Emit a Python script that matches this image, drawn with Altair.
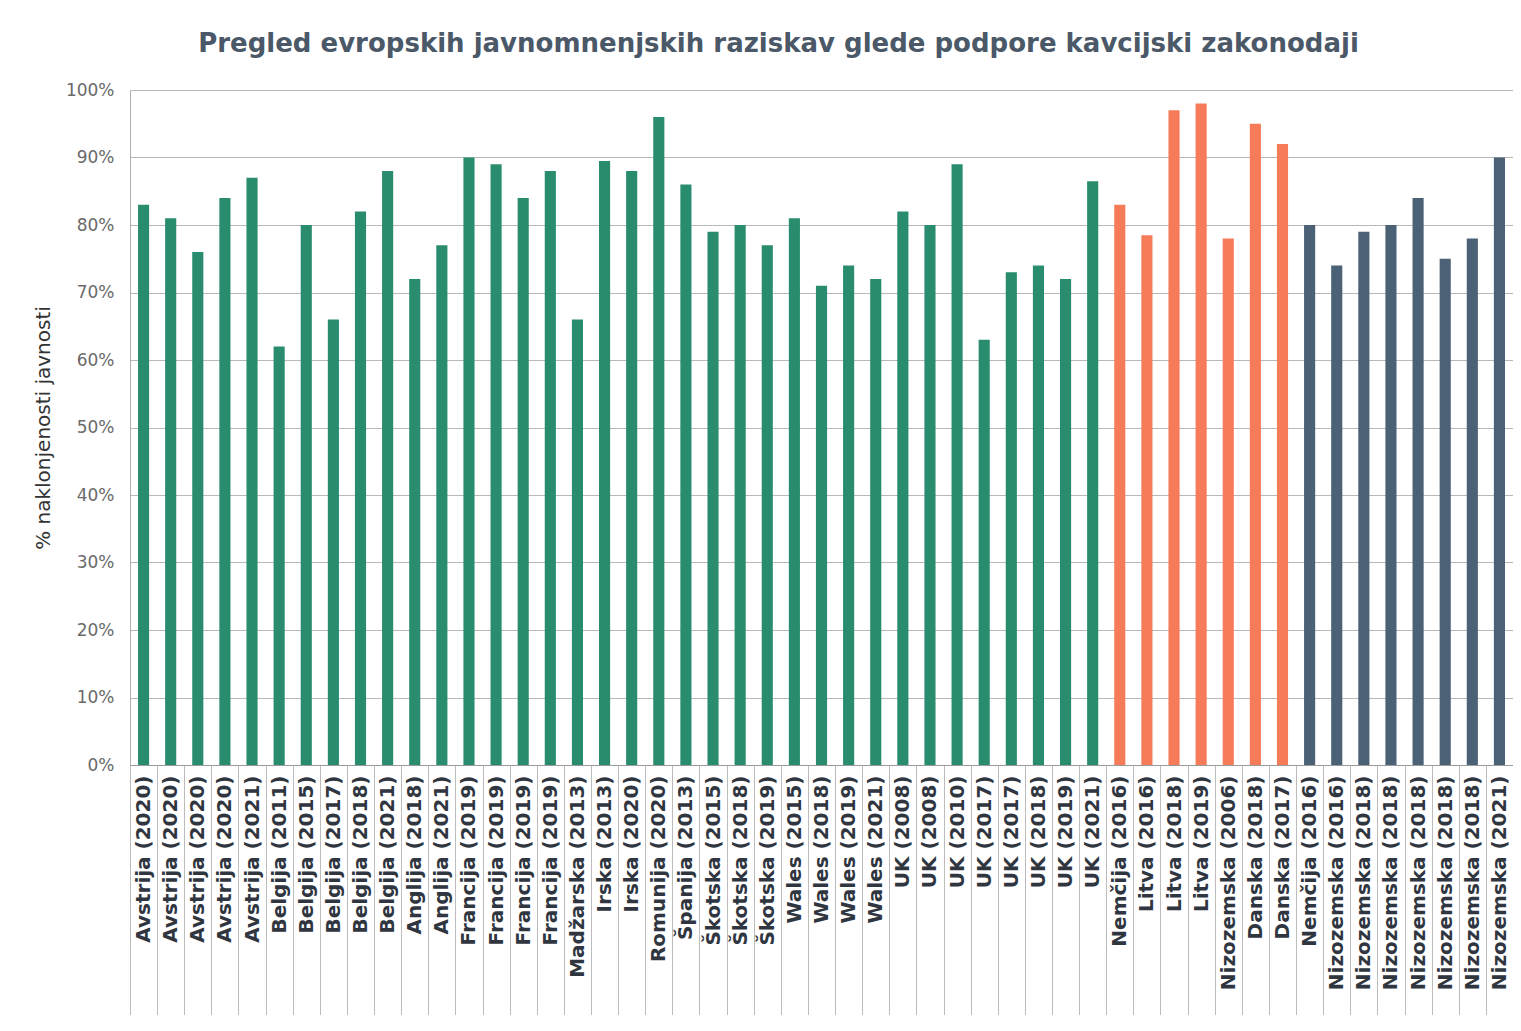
import json
import altair as alt
import pandas as pd

labels = [
    "Avstrija (2020)", "Avstrija (2020)", "Avstrija (2020)", "Avstrija (2020)", "Avstrija (2021)",
    "Belgija (2011)", "Belgija (2015)", "Belgija (2017)", "Belgija (2018)", "Belgija (2021)",
    "Anglija (2018)", "Anglija (2021)",
    "Francija (2019)", "Francija (2019)", "Francija (2019)", "Francija (2019)",
    "Madžarska (2013)", "Irska (2013)", "Irska (2020)", "Romunija (2020)", "Španija (2013)",
    "Škotska (2015)", "Škotska (2018)", "Škotska (2019)",
    "Wales (2015)", "Wales (2018)", "Wales (2019)", "Wales (2021)",
    "UK (2008)", "UK (2008)", "UK (2010)", "UK (2017)", "UK (2017)", "UK (2018)", "UK (2019)", "UK (2021)",
    "Nemčija (2016)", "Litva (2016)", "Litva (2018)", "Litva (2019)", "Nizozemska (2006)",
    "Danska (2018)", "Danska (2017)",
    "Nemčija (2016)", "Nizozemska (2016)", "Nizozemska (2018)", "Nizozemska (2018)",
    "Nizozemska (2018)", "Nizozemska (2018)", "Nizozemska (2018)", "Nizozemska (2021)",
]
values = [
    83, 81, 76, 84, 87,
    62, 80, 66, 82, 88,
    72, 77,
    90, 89, 84, 88,
    66, 89.5, 88, 96, 86,
    79, 80, 77,
    81, 71, 74, 72,
    82, 80, 89, 63, 73, 74, 72, 86.5,
    83, 78.5, 97, 98, 78,
    95, 92,
    80, 74, 79, 80, 84, 75, 78, 90,
]
groups = ["A"] * 36 + ["B"] * 7 + ["C"] * 8
group_names = ["A", "B", "C"]
group_colors = ["#2a8c6f", "#f67b58", "#4b6175"]

df = pd.DataFrame({
    "idx": list(range(len(labels))),
    "label": labels,
    "value": [v / 100 for v in values],
    "group": groups,
})

label_expr = json.dumps(labels, ensure_ascii=False) + "[datum.value]"

chart = alt.Chart(df).mark_bar(width=alt.RelativeBandSize(0.41)).encode(
    x=alt.X("idx:O", title=None,
            scale=alt.Scale(paddingInner=0, paddingOuter=0),
            axis=alt.Axis(labelExpr=label_expr, labelAngle=-90, labelAlign="right",
                          labelBaseline="middle", labelLimit=400,
                          labelFont="DejaVu Sans", labelFontSize=20, labelFontWeight="bold",
                          labelColor="#30363f", labelPadding=-245, labelOverlap=False,
                          tickBand="extent", tickSize=255, tickColor="#bcbcbc", tickWidth=1,
                          domainColor="#9a9a9a", grid=False)),
    y=alt.Y("value:Q", title="% naklonjenosti javnosti",
            scale=alt.Scale(domain=[0, 1], nice=False),
            axis=alt.Axis(format=".0%", values=[i / 10 for i in range(11)],
                          labelFont="DejaVu Sans", labelFontSize=17, labelColor="#6a6a6a",
                          labelPadding=16, ticks=False, domainColor="#b0b0b0",
                          gridColor="#b8b8b8", gridWidth=1,
                          titleFont="DejaVu Sans", titleFontSize=20, titleFontWeight="normal",
                          titleColor="#333333", titlePadding=12)),
    color=alt.Color("group:N", scale=alt.Scale(domain=group_names, range=group_colors), legend=None),
).properties(
    width=1383, height=675,
    title=alt.Title("Pregled evropskih javnomnenjskih raziskav glede podpore kavcijski zakonodaji",
                    font="DejaVu Sans", fontSize=26, fontWeight="bold", color="#4a5868",
                    anchor="middle", offset=24, dx=-43),
    autosize=alt.AutoSizeParams(type="none"),
    padding={"left": 122, "top": 82, "right": 0, "bottom": 250},
).configure_view(stroke=None)

chart.save("out.html", embed_options={"renderer": "svg", "actions": False})
